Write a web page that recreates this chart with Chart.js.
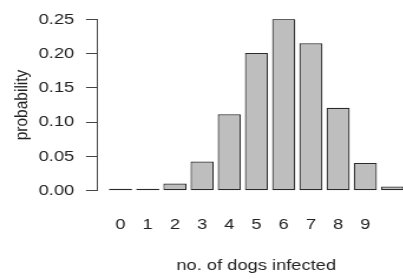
<!DOCTYPE html>
<html>
<head>
<meta charset="utf-8">
<script src="https://cdn.jsdelivr.net/npm/chart.js@4/dist/chart.umd.min.js"></script>
<style>
  html, body { margin: 0; padding: 0; overflow: hidden; background: #fff; }
  /* the reference is a horizontally stretched R plot, so draw narrower and stretch */
  #wrap { width: 352px; height: 279px; transform: scaleX(1.18); transform-origin: 0 0; }
</style>
</head>
<body>
<div id="wrap"><canvas id="dogChart"></canvas></div>
<script>
// no. of dogs infected (0..10) and probability of each
const dogsInfected = [0, 1, 2, 3, 4, 5, 6, 7, 8, 9, 10];
const probabilities = [0.0001, 0.0016, 0.0106, 0.0425, 0.1115, 0.2007, 0.2508, 0.2150, 0.1209, 0.0403, 0.0060];
const xTickLabels = ['0', '1', '2', '3', '4', '5', '6', '7', '8', '9'];
const yTickValues = [0, 0.05, 0.10, 0.15, 0.20, 0.25];

const textFont = { family: 'Liberation Sans, Arial, sans-serif', size: 15.5, lineHeight: 1.2 };

const ctx = document.getElementById('dogChart').getContext('2d');
new Chart(ctx, {
    type: 'bar',
    data: {
        datasets: [{
            data: dogsInfected.map((d, i) => ({ x: d, y: probabilities[i] })),
            backgroundColor: '#bebebe',
            borderColor: '#2a2a2a',
            borderWidth: 1.2,
            borderSkipped: false,
            minBarLength: 2,   // near-zero bars still show as a dark line, like R
            barPercentage: 0.85,
            categoryPercentage: 1
        }]
    },
    options: {
        responsive: true,
        maintainAspectRatio: false,
        animation: false,
        layout: { padding: { top: 15.7, right: 0, bottom: 0, left: 0 } },
        plugins: { legend: { display: false }, tooltip: { enabled: false } },
        scales: {
            x: {
                type: 'linear',
                offset: false,
                min: -0.863,
                max: 10.84,
                afterBuildTicks: scale => {
                    scale.ticks = xTickLabels.map(l => ({ value: Number(l) }));
                },
                afterFit: scale => { scale.height = 279 - 190.7; },
                grid: { display: false, offset: false },
                border: { display: false },
                ticks: {
                    autoSkip: false,
                    maxRotation: 0,
                    padding: 17,
                    color: '#222',
                    font: textFont,
                    callback: v => String(v)
                },
                title: {
                    display: true,
                    text: 'no. of dogs infected',
                    color: '#222',
                    font: textFont,
                    padding: { top: 0, bottom: 3.7 }
                }
            },
            y: {
                min: 0,
                max: 0.25,
                afterBuildTicks: scale => {
                    scale.ticks = yTickValues.map(v => ({ value: v }));
                },
                afterFit: scale => { scale.width = 82.2; },
                grid: { drawOnChartArea: false, drawTicks: true, tickLength: 9.3, color: '#444' },
                border: { display: true, color: '#444' },
                ticks: {
                    padding: 10,
                    color: '#222',
                    font: textFont,
                    callback: v => v.toFixed(2)
                },
                title: {
                    display: true,
                    text: 'probability',
                    color: '#222',
                    font: textFont,
                    padding: { top: 9.3, bottom: 0 }
                }
            }
        }
    }
});
</script>
</body>
</html>
